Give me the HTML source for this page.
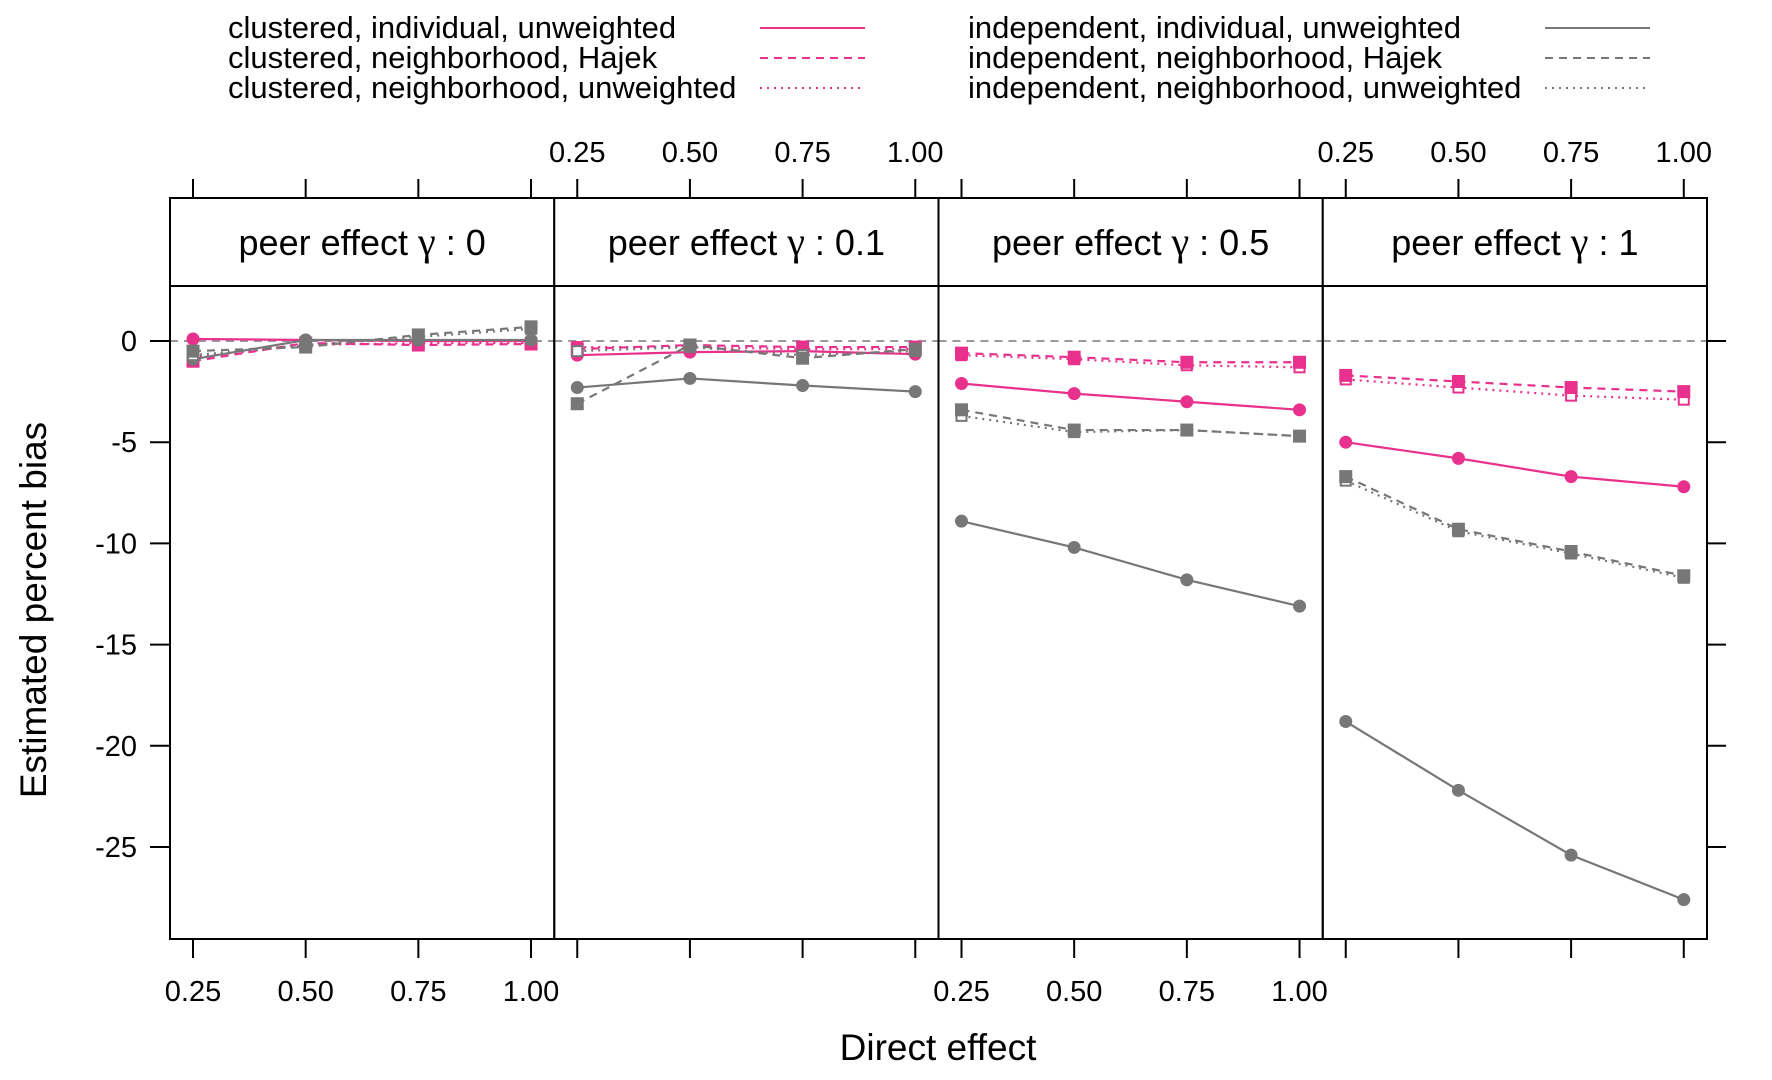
<!DOCTYPE html>
<html><head><meta charset="utf-8"><style>
html,body{margin:0;padding:0;background:#fff;}
svg{display:block;font-family:"Liberation Sans",Arial,sans-serif;}
</style></head><body>
<svg id="chart" width="1772" height="1080" viewBox="0 0 1772 1080" xmlns="http://www.w3.org/2000/svg">
<g id="legend" font-size="31" fill="#000">
 <g><text x="228" y="38">clustered, individual, unweighted</text><line x1="760" y1="28" x2="865" y2="28" stroke="#e8318c" stroke-width="2"/></g>
 <g><text x="228" y="68">clustered, neighborhood, Hajek</text><line x1="760" y1="58" x2="865" y2="58" stroke="#e8318c" stroke-width="2" stroke-dasharray="8,6"/></g>
 <g><text x="228" y="98">clustered, neighborhood, unweighted</text><line x1="760" y1="88" x2="865" y2="88" stroke="#e8318c" stroke-width="2" stroke-dasharray="2,5"/></g>
 <g><text x="968" y="38">independent, individual, unweighted</text><line x1="1545" y1="28" x2="1650" y2="28" stroke="#777" stroke-width="2"/></g>
 <g><text x="968" y="68">independent, neighborhood, Hajek</text><line x1="1545" y1="58" x2="1650" y2="58" stroke="#777" stroke-width="2" stroke-dasharray="8,6"/></g>
 <g><text x="968" y="98">independent, neighborhood, unweighted</text><line x1="1545" y1="88" x2="1650" y2="88" stroke="#777" stroke-width="2" stroke-dasharray="2,5"/></g>
</g>
<text x="938" y="1060" font-size="37" text-anchor="middle">Direct effect</text>
<text transform="translate(46,610) rotate(-90)" font-size="37" text-anchor="middle">Estimated percent bias</text>
<g id="plot"></g>
</svg>
<script>
const gammas = ["0", "0.1", "0.5", "1"];
const xCats = [0.25, 0.5, 0.75, 1.0];
const xTickLabels = ["0.25", "0.50", "0.75", "1.00"];
const yTicks = [0, -5, -10, -15, -20, -25];
const seriesNames = ["clustered-individual-unweighted","clustered-neighborhood-hajek","clustered-neighborhood-unweighted","independent-individual-unweighted","independent-neighborhood-hajek","independent-neighborhood-unweighted"];
const cIndU = [[0.1,0.05,0,0],[-0.7,-0.55,-0.5,-0.65],[-2.1,-2.6,-3.0,-3.4],[-5.0,-5.8,-6.7,-7.2]];
const cNbhH = [[-1.0,-0.1,-0.2,-0.15],[-0.4,-0.2,-0.3,-0.3],[-0.6,-0.8,-1.05,-1.05],[-1.7,-2.0,-2.3,-2.5]];
const cNbhU = [[-0.8,-0.2,-0.1,-0.1],[-0.3,-0.3,-0.4,-0.4],[-0.7,-0.9,-1.2,-1.3],[-1.9,-2.3,-2.7,-2.9]];
const iIndU = [[-0.9,0.05,0.05,0.05],[-2.3,-1.85,-2.2,-2.5],[-8.9,-10.2,-11.8,-13.1],[-18.8,-22.2,-25.4,-27.6]];
const iNbhH = [[-0.5,-0.3,0.3,0.7],[-3.1,-0.2,-0.85,-0.4],[-3.4,-4.4,-4.4,-4.7],[-6.7,-9.3,-10.4,-11.6]];
const iNbhU = [[-0.7,-0.2,0.2,0.6],[-0.5,-0.3,-0.7,-0.5],[-3.7,-4.5,-4.4,-4.7],[-6.9,-9.4,-10.5,-11.7]];

const PINK="#e8318c", GRAY="#777";
const styles=[
 {d:cIndU,c:PINK,dash:null,m:"circle"},
 {d:cNbhU,c:PINK,dash:"2,5",m:"open"},
 {d:cNbhH,c:PINK,dash:"8,6",m:"sq"},
 {d:iIndU,c:GRAY,dash:null,m:"circle"},
 {d:iNbhU,c:GRAY,dash:"2,5",m:"open"},
 {d:iNbhH,c:GRAY,dash:"8,6",m:"sq"}
];
const styleNames=[seriesNames[0],seriesNames[2],seriesNames[1],seriesNames[3],seriesNames[5],seriesNames[4]];
const NS="http://www.w3.org/2000/svg";
const plot=document.getElementById('plot');
function mk(tag,attrs,parent){const e=document.createElementNS(NS,tag);for(const k in attrs)e.setAttribute(k,attrs[k]);(parent||plot).appendChild(e);return e;}
const L0=170, PW=384.25, TOP=286, BOT=939, STRIPTOP=198;
const Y0=341, PXU=101.2/5;
function yS(v){return Y0 - v*PXU;}
function xS(p,v){return L0+p*PW+23+(v-0.25)*450.7;}

for(let p=0;p<4;p++){
 const left=L0+p*PW;
 const g=mk('g',{});
 
 
 const z=mk('line',{x1:left,x2:left+PW,y1:yS(0),y2:yS(0),stroke:"#999","stroke-width":2,"stroke-dasharray":"8,6"},g);
 
 
 styles.forEach((s,si)=>{
  const vals=s.d[p];
  const pts=vals.map((v,i)=>xS(p,xCats[i])+","+yS(v)).join(" ");
  const sg=mk('g',{},g);
  
  
  const pl=mk('polyline',{points:pts,fill:"none",stroke:s.c,"stroke-width":2.2},sg);
  if(s.dash)pl.setAttribute('stroke-dasharray',s.dash);
  
  
  vals.forEach((v,i)=>{
   const x=xS(p,xCats[i]),y=yS(v);
   let e;
   if(s.m==="circle") e=mk('circle',{cx:x,cy:y,r:6.5,fill:s.c},sg);
   else if(s.m==="sq") e=mk('rect',{x:x-6.5,y:y-6.5,width:13,height:13,fill:s.c},sg);
   else e=mk('rect',{x:x-5,y:y-5,width:10,height:10,fill:"#fff",stroke:s.c,"stroke-width":2},sg);
   
   
  });
 });
 const st=mk('rect',{x:left,y:STRIPTOP,width:PW,height:TOP-STRIPTOP,fill:"#fff",stroke:"#000","stroke-width":2},g);
 
 
 const tt=mk('text',{x:left+PW/2,y:255,"font-size":36,"text-anchor":"middle"},g);
 
 
 const t1s=mk('tspan',{},tt); t1s.textContent="peer effect ";
 const t2s=mk('tspan',{"font-family":"Liberation Serif, serif","font-size":40},tt); t2s.textContent="γ";
 const t3s=mk('tspan',{},tt); t3s.textContent=" : "+gammas[p];
 const br=mk('rect',{x:left,y:TOP,width:PW,height:BOT-TOP,fill:"none",stroke:"#000","stroke-width":2},g);
 
 
 xCats.forEach((v,i)=>{
  const x=xS(p,v);
  const t1=mk('line',{x1:x,x2:x,y1:179,y2:198,stroke:"#000","stroke-width":2},g);
  
  
  const t2=mk('line',{x1:x,x2:x,y1:BOT,y2:958,stroke:"#000","stroke-width":2},g);
  
  
  const lab=mk('text',{x:x,y:(p%2===0)?1001:162,"font-size":29,"text-anchor":"middle"},g);
  lab.textContent=xTickLabels[i];
  
  
 });
}
yTicks.forEach(v=>{
 const y=yS(v);
 const a=mk('line',{x1:150,x2:170,y1:y,y2:y,stroke:"#000","stroke-width":2});
 
 
 const b=mk('line',{x1:L0+4*PW,x2:L0+4*PW+19,y1:y,y2:y,stroke:"#000","stroke-width":2});
 
 
 const t=mk('text',{x:137,y:y+10,"font-size":29,"text-anchor":"end"});
 t.textContent=String(v);
 
 
});
</script>
</body></html>
